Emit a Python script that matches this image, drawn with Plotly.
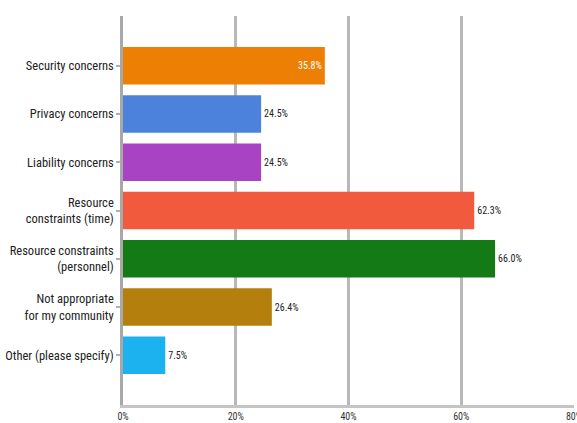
import plotly.graph_objects as go

categories = [
    "Security concerns",
    "Privacy concerns",
    "Liability concerns",
    "Resource<br>constraints (time)",
    "Resource constraints<br>(personnel)",
    "Not appropriate<br>for my community",
    "Other (please specify)",
]
values = [35.8, 24.5, 24.5, 62.3, 66.0, 26.4, 7.5]
bar_colors = ["#ee7f05", "#4c82dc", "#a844c4", "#f25a3e", "#137a16", "#b47f0c", "#1cb2f0"]
x_ticks = [0, 20, 40, 60, 80]
x_tick_labels = ["0%", "20%", "40%", "60%", "80%"]

FONT = "Roboto Condensed, Arial Narrow, sans-serif"

label_text = [f"{v:.1f}%" for v in values]
# the first bar carries its value inside, the rest outside
text_pos = ["inside"] + ["outside"] * (len(values) - 1)
text_colors = ["white" if p == "inside" else "#222" for p in text_pos]

fig = go.Figure(
    go.Bar(
        x=values,
        y=categories,
        orientation="h",
        marker=dict(color=bar_colors, line=dict(width=0)),
        width=0.78,
        text=label_text,
        textposition=text_pos,
        insidetextanchor="end",
        textfont=dict(family=FONT, size=10, color=text_colors),
        cliponaxis=False,
    )
)

fig.update_layout(
    width=577,
    height=423,
    margin=dict(l=123, r=3, t=16, b=18),
    paper_bgcolor="white",
    plot_bgcolor="white",
    showlegend=False,
    font=dict(family=FONT, color="#222"),
)
fig.update_xaxes(
    range=[0, 80],
    tickvals=x_ticks,
    ticktext=x_tick_labels,
    showgrid=True,
    gridcolor="#b8b8b8",
    gridwidth=2.5,
    zeroline=False,
    showline=True,
    linecolor="#c4c4c4",
    linewidth=3,
    ticks="",
    tickfont=dict(size=10, color="#333"),
    ticklabeloverflow="allow",
    automargin=False,
    fixedrange=True,
)
fig.update_yaxes(
    categoryorder="array",
    categoryarray=categories,
    autorange=False,
    range=[7.03, -1.03],
    showgrid=False,
    zeroline=False,
    showline=True,
    linecolor="#a8a8a8",
    linewidth=2.5,
    ticks="outside",
    ticklen=4,
    tickcolor="#b0b0b0",
    tickwidth=1.5,
    tickfont=dict(size=12.5, color="#222"),
    automargin=False,
    fixedrange=True,
)

fig.write_html("out.html")
